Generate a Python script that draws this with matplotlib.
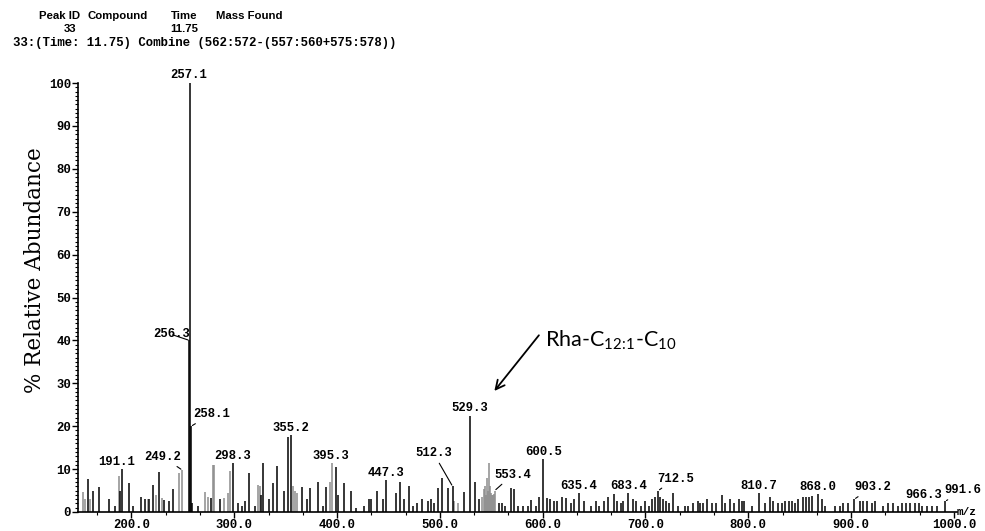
import numpy as np
import matplotlib.pyplot as plt
from matplotlib.ticker import MultipleLocator

# black sticks (m/z, % relative abundance)
black_mz = [157.7, 162.6, 168.4, 178.1, 184.0, 188.8, 191.1, 197.6, 201.4, 209.2,
            213.1, 217.0, 220.9, 226.7, 231.6, 236.4, 240.3, 256.3, 257.1, 258.1,
            258.9, 264.6, 277.2, 286.0, 298.3, 303.5, 307.4, 310.3, 314.2, 320.0,
            325.9, 327.8, 333.6, 337.5, 341.4, 348.2, 352.1, 355.2, 365.7, 370.5,
            373.5, 381.2, 386.1, 389.0, 398.7, 400.7, 406.5, 413.3, 418.2, 426.0,
            430.8, 432.8, 438.6, 444.4, 447.3, 457.1, 461.0, 464.8, 469.7, 473.6,
            477.4, 482.3, 488.1, 491.0, 494.0, 497.9, 501.8, 507.6, 512.3, 523.2,
            529.3, 533.8, 537.7, 557.1, 560.0, 563.0, 568.8, 571.7, 575.6, 580.5,
            585.3, 588.3, 593.1, 596.0, 600.5, 603.8, 606.7, 610.6, 614.4, 618.3,
            622.2, 628.0, 630.1, 635.4, 639.8, 646.6, 651.4, 654.3, 659.3, 664.0,
            669.0, 671.8, 675.7, 678.6, 683.4, 687.4, 690.3, 695.2, 699.1, 703.0,
            706.8, 709.7, 712.5, 714.5, 717.5, 720.4, 723.3, 727.2, 732.1, 738.8,
            741.7, 746.6, 751.5, 753.4, 756.4, 760.2, 765.1, 769.0, 774.8, 777.8,
            782.6, 786.5, 791.4, 794.2, 796.2, 804.0, 810.7, 816.6, 821.5, 824.4,
            829.2, 833.1, 836.0, 840.0, 842.9, 845.8, 848.7, 853.5, 856.4, 859.3,
            862.3, 868.0, 872.0, 874.9, 884.6, 889.5, 892.4, 897.3, 903.2, 909.0,
            911.8, 915.7, 920.6, 923.5, 931.3, 936.1, 941.0, 945.9, 949.7, 953.6,
            957.5, 962.4, 966.3, 969.2, 974.0, 978.9, 983.7, 991.6]
black_int = [7.7, 5.0, 5.8, 3.0, 1.5, 5.0, 10.0, 6.8, 1.5, 3.5,
             3.0, 3.0, 6.3, 9.3, 2.8, 2.5, 5.3, 40.0, 100.0, 20.0,
             2.0, 1.5, 3.2, 3.0, 11.4, 2.0, 1.5, 2.5, 9.0, 1.5,
             4.0, 11.4, 3.0, 6.8, 10.7, 5.0, 17.5, 18.0, 5.9, 3.0,
             5.5, 7.0, 1.5, 5.8, 10.6, 4.0, 6.8, 5.0, 1.0, 1.5,
             3.0, 3.0, 5.0, 3.0, 7.5, 4.4, 7.0, 3.0, 6.0, 1.5,
             2.0, 3.0, 2.5, 3.0, 2.0, 5.5, 8.0, 5.6, 6.0, 4.7,
             22.4, 7.0, 3.0, 2.0, 2.0, 1.5, 5.5, 5.4, 1.5, 1.5,
             1.5, 2.7, 1.5, 3.5, 12.3, 3.2, 3.0, 2.5, 2.6, 3.5,
             3.2, 2.0, 3.0, 4.5, 2.5, 1.5, 2.5, 1.5, 2.5, 3.5,
             4.3, 2.5, 2.0, 2.5, 4.5, 3.0, 2.5, 1.5, 2.5, 1.5,
             3.0, 3.5, 5.0, 3.5, 3.0, 2.5, 2.0, 4.4, 1.5, 1.5,
             1.5, 2.0, 2.5, 2.0, 2.0, 3.0, 2.0, 2.0, 4.0, 2.0,
             3.0, 2.0, 3.0, 2.5, 2.5, 1.5, 4.5, 2.0, 3.5, 2.5,
             2.0, 2.0, 2.5, 2.5, 2.5, 2.0, 3.0, 3.5, 3.5, 3.5,
             3.8, 4.3, 3.0, 1.5, 1.5, 1.5, 2.0, 2.0, 3.0, 2.5,
             2.5, 2.5, 2.0, 2.5, 1.5, 2.0, 2.0, 1.5, 2.0, 2.0,
             2.0, 2.0, 2.0, 1.5, 1.5, 1.5, 1.5, 2.5]

# grey sticks
gray_mz = [153.0, 154.9, 159.7, 187.9, 216.0, 223.8, 229.6, 246.1, 249.2, 271.4,
           274.3, 279.2, 280.2, 289.9, 293.8, 295.7, 323.0, 324.9, 357.0, 358.9,
           360.8, 392.9, 395.3, 513.4, 517.3, 540.6, 542.6, 543.6, 544.5, 545.4,
           546.4, 547.4, 548.4, 549.3, 550.3, 551.3, 552.3, 553.4]
gray_int = [4.7, 3.0, 3.0, 8.5, 3.0, 4.0, 3.2, 9.0, 9.8, 4.7,
            3.5, 11.0, 11.0, 3.2, 4.5, 9.5, 6.3, 6.0, 6.0, 5.0,
            4.5, 7.0, 11.4, 2.5, 2.0, 3.5, 5.4, 6.0, 4.0, 8.0,
            5.0, 11.4, 6.0, 4.5, 4.0, 4.0, 4.2, 5.0]

# labelled peaks and label offsets (pixels), leader line yes/no
label_mz = [191.1, 249.2, 256.3, 257.1, 258.1, 298.3, 355.2, 395.3, 447.3, 512.3,
            529.3, 553.4, 600.5, 635.4, 683.4, 712.5, 810.7, 868.0, 903.2, 966.3, 991.6]
label_dx = [-6, -19, -18, -1, 20, 0, 0, -1, 0, -19, 0, 18, 0, 0, 0, 17, 0, 0, 18, 5, 18]
label_dy = [7, 13, 6, 8, 12, 7, 7, 7, 7, 33, 8, 16, 7, 7, 7, 12, 7, 7, 12, 8, 11]
label_lead = [0, 1, 1, 0, 1, 0, 0, 0, 0, 1, 0, 1, 0, 0, 0, 1, 0, 0, 1, 0, 1]

xticks = [200, 300, 400, 500, 600, 700, 800, 900, 1000]

plt.rcParams['font.family'] = 'Liberation Mono'
plt.rcParams['font.weight'] = 'bold'

fig = plt.figure(figsize=(9.85, 5.31), dpi=100)
ax = fig.add_axes([78 / 985, 1 - 512 / 531, (957 - 78) / 985, (512 - 83) / 531])

ax.vlines(gray_mz, 0, gray_int, color='#8c8c8c', lw=1.1)
ax.vlines(black_mz, 0, black_int, color='black', lw=1.1)

ax.set_xlim(148, 1003)
ax.set_ylim(0, 100)
for s in ['top', 'right']:
    ax.spines[s].set_visible(False)
for s in ['left', 'bottom']:
    ax.spines[s].set_linewidth(1.2)

ax.set_xticks(xticks)
ax.set_xticklabels(['%.1f' % v for v in xticks])
ax.xaxis.set_minor_locator(MultipleLocator(100 / 3))
ax.set_yticks(np.arange(0, 101, 10))
ax.yaxis.set_minor_locator(MultipleLocator(1))
ax.tick_params(which='major', length=4, width=1, labelsize=8.8, pad=1)
ax.tick_params(which='minor', length=2, width=0.8)

# peak labels
allmz = black_mz + gray_mz
allint = black_int + gray_int
for mz, dx, dy, lead in zip(label_mz, label_dx, label_dy, label_lead):
    h = allint[allmz.index(mz)]
    ap = dict(arrowstyle='-', lw=0.8, color='black', shrinkA=1, shrinkB=1) if lead else None
    ax.annotate('%.1f' % mz, xy=(mz, h), xytext=(dx, dy), textcoords='offset pixels',
                ha='center', va='center', fontsize=8.8, fontweight='bold',
                arrowprops=ap)

ax.annotate('m/z', xy=(1, 0), xycoords='axes fraction', xytext=(10, 0),
            textcoords='offset pixels', ha='center', va='center', fontsize=8)

# Rha annotation
ax.annotate('', xy=(551.3, 27.7), xytext=(598, 41.7),
            arrowprops=dict(arrowstyle='->', lw=1.3, color='black', mutation_scale=16))
ax.text(601.8, 38.5, 'Rha-C$_{\\mathregular{12\\!:\\!1}}$-C$_{\\mathregular{10}}$',
        family='Lato', fontweight='normal', fontsize=15.5, va='baseline', ha='left')

# y label
fig.text(35 / 985, 1 - 270 / 531, '% Relative Abundance', rotation=90,
         family='DejaVu Serif', fontweight='normal', fontsize=15.5,
         ha='center', va='center')

# header
hdr = dict(family='Liberation Sans', fontweight='bold', fontsize=8.2, va='center')
fig.text(39 / 985, 1 - 16 / 531, 'Peak ID', ha='left', **hdr)
fig.text(88 / 985, 1 - 16 / 531, 'Compound', ha='left', **hdr)
fig.text(171 / 985, 1 - 16 / 531, 'Time', ha='left', **hdr)
fig.text(216 / 985, 1 - 16 / 531, 'Mass Found', ha='left', **hdr)
fig.text(70 / 985, 1 - 29 / 531, '33', ha='center', **hdr)
fig.text(184 / 985, 1 - 29 / 531, '11.75', ha='center', **hdr)
fig.text(13 / 985, 1 - 43 / 531, '33:(Time: 11.75) Combine (562:572-(557:560+575:578))',
         ha='left', va='center', fontsize=8.9, fontweight='bold')

fig.savefig('out.png', dpi=100)
